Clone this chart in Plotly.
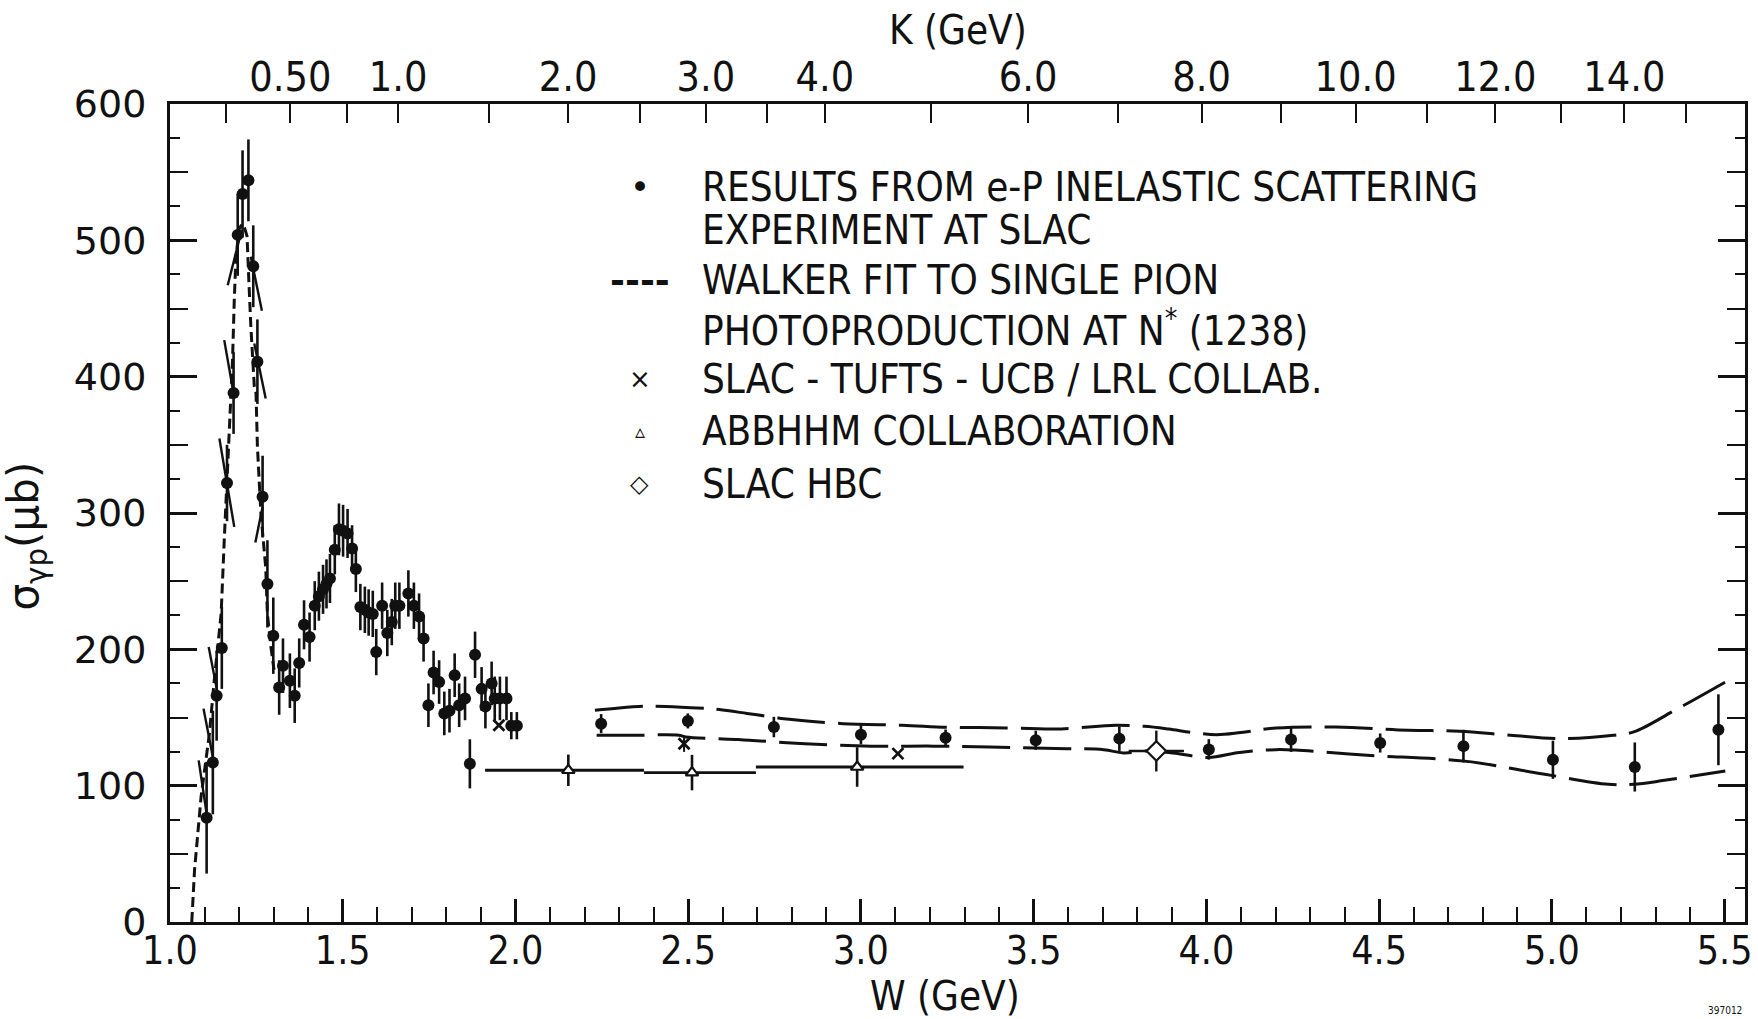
import numpy as np
import plotly.graph_objects as go

M_P = 0.938  # proton mass (GeV) used for the K <-> W relation of the top axis

# ---------------- data ----------------
# SLAC e-p inelastic scattering results (filled circles)
slac_W = [1.106, 1.124, 1.135, 1.150, 1.165, 1.184, 1.196, 1.210, 1.227, 1.241,
          1.253, 1.268, 1.282, 1.299, 1.316, 1.327, 1.347, 1.361, 1.374, 1.388,
          1.404, 1.419, 1.431, 1.443, 1.453, 1.463, 1.477, 1.489, 1.501, 1.514,
          1.527, 1.538, 1.551, 1.564, 1.575, 1.587, 1.597, 1.614, 1.629, 1.642,
          1.652, 1.664, 1.690, 1.706, 1.721, 1.734, 1.748, 1.763, 1.779, 1.794,
          1.809, 1.824, 1.837, 1.854, 1.868, 1.883, 1.902, 1.913, 1.931, 1.940,
          1.955, 1.974, 1.988, 2.004,
          2.248, 2.499, 2.748, 3.000, 3.245, 3.506, 3.748, 4.007, 4.245, 4.503,
          4.744, 5.003, 5.240, 5.482]
slac_sigma = [76.5, 117, 166, 201, 322, 388, 504, 534, 544, 481,
              411, 312, 248, 210, 172, 188, 177, 166, 190, 218,
              209, 232, 239, 244, 248, 252, 273, 288, 287, 285,
              274, 259, 231, 229, 227, 226, 198, 232, 212, 220,
              232, 232, 241, 232, 224, 208, 159, 183, 176, 153,
              155, 181, 159, 164, 116, 196, 171, 158, 175, 164,
              164, 164, 144, 144,
              145.5, 147.5, 143, 137.4, 135.2, 133.3, 134.5, 126.6, 133.8, 131.3,
              129, 119, 113.7, 141]
slac_err = [41, 38, 33, 30, 28, 30, 30, 32, 30, 30,
            31, 30, 32, 28, 20, 20, 20, 20, 18, 18,
            18, 18, 18, 18, 18, 18, 18, 19, 19, 18,
            17, 17, 17, 17, 17, 17, 17, 17, 17, 17,
            17, 17, 17, 17, 17, 17, 16, 16, 16, 16,
            16, 16, 16, 16, 18, 17, 16, 16, 16, 16,
            16, 16, 10, 10,
            7, 5.5, 7.5, 7, 6, 7, 9, 7.5, 9, 7,
            12, 14, 18, 26]

# slanted marks drawn through some of the resonance-region points (W1, s1) -> (W2, s2)
slant_W1 = [1.083, 1.097, 1.112, 1.143, 1.157, 1.167, 1.234, 1.244, 1.247]
slant_s1 = [118.6, 156.5, 201.7, 354.6, 426.8, 467, 488, 424.4, 278.3]
slant_W2 = [1.106, 1.124, 1.138, 1.186, 1.184, 1.205, 1.266, 1.277, 1.268]
slant_s2 = [79.5, 121, 167.5, 289.8, 387.7, 505, 448.3, 384, 304.5]

# Walker fit to single pion photoproduction at N*(1238) (short dashes)
walker_W = [1.063, 1.071, 1.090, 1.114, 1.128, 1.148, 1.157, 1.167, 1.175, 1.181,
            1.186, 1.191, 1.200, 1.208, 1.216, 1.223, 1.229, 1.234, 1.244, 1.249,
            1.253, 1.263, 1.277, 1.282, 1.292, 1.301]
walker_sigma = [0, 38, 92, 138, 177, 226, 280, 336, 373, 412,
                456, 488, 508, 512, 509, 503, 466, 437, 393, 388,
                349, 300, 260, 226, 202, 185]

# long-dashed band (upper / lower curves)
band_up_W = [2.230, 2.300, 2.372, 2.402, 2.480, 2.559, 2.590, 2.670, 2.751, 2.777,
             2.948, 3.120, 3.247, 3.343, 3.514, 3.564, 3.689, 3.737, 3.820, 3.891,
             3.960, 4.030, 4.100, 4.202, 4.376, 4.584, 4.732, 4.880, 5.030, 5.178,
             5.237, 5.356, 5.502]
band_up_sigma = [155.3, 157, 158.2, 158.2, 157.5, 156.5, 155.8, 153, 150, 149,
                 145.5, 144.3, 142.8, 142.6, 141.8, 141.5, 143.5, 144.3, 143.5, 141.5,
                 139, 137.4, 139, 142.3, 143, 140.6, 140, 137, 134.5, 137,
                 139.4, 155.3, 176]
band_lo_W = [2.235, 2.350, 2.473, 2.493, 2.645, 2.676, 2.838, 3.029, 3.211, 3.373,
             3.564, 3.703, 3.760, 3.837, 3.910, 4.005, 4.096, 4.200, 4.257, 4.465,
             4.747, 4.970, 5.163, 5.237, 5.326, 5.502]
band_lo_sigma = [137, 137, 137, 135.7, 133.8, 133.3, 130.8, 129, 129, 128.4,
                 127.2, 126.4, 124, 125.5, 123.8, 120.7, 124.4, 126.4, 126.1, 122.3,
                 118, 108.8, 101, 101, 103.9, 110.7]

# SLAC-Tufts-UCB/LRL collaboration (crosses)
stu_W = [1.952, 2.488, 3.107]
stu_sigma = [144.3, 130.8, 123.5]
stu_err = [0, 6, 0]

# ABBHHM collaboration (open triangles, with W bins)
abb_W = [2.153, 2.511, 2.989]
abb_sigma = [111.3, 109.6, 113.7]
abb_err = [11.5, 13, 14.5]
abb_W_lo = [1.912, 2.372, 2.696]
abb_W_hi = [2.372, 2.696, 3.297]

# SLAC HBC (open diamond)
hbc_W = [3.855]
hbc_sigma = [125.4]
hbc_err = [15]
hbc_W_err = [0.08]

# axes
W_range = [1.0, 5.559]
sigma_range = [0, 600]
K_ticks = [0.25, 0.5, 0.75, 1.0, 1.5, 2.0, 2.5, 3.0, 3.5, 4.0,
           5.0, 6.0, 7.0, 8.0, 9.0, 10.0, 11.0, 12.0, 13.0, 14.0, 15.0]
K_labels = ["", "0.50", "", "1.0", "", "2.0", "", "3.0", "", "4.0",
            "", "6.0", "", "8.0", "", "10.0", "", "12.0", "", "14.0", ""]
W_major = [1.0, 1.5, 2.0, 2.5, 3.0, 3.5, 4.0, 4.5, 5.0, 5.5]
W_labels = ["1.0", "1.5", "2.0", "2.5", "3.0", "3.5", "4.0", "4.5", "5.0", "5.5"]
sigma_major = [0, 100, 200, 300, 400, 500, 600]
sigma_mid = [50, 150, 250, 350, 450, 550]

# ---------------- figure ----------------
NARROW = "Liberation Sans Narrow, DejaVu Sans Condensed, Liberation Sans, sans-serif"
WIDE = "DejaVu Sans, sans-serif"
BLACK = "#111111"

fig = go.Figure()

# Walker fit
fig.add_trace(go.Scatter(x=walker_W, y=walker_sigma, mode="lines",
                         line=dict(color=BLACK, width=3, dash="10px,5px"),
                         showlegend=False, hoverinfo="skip"))
# band curves
for bw, bs in ((band_up_W, band_up_sigma), (band_lo_W, band_lo_sigma)):
    fig.add_trace(go.Scatter(x=bw, y=bs, mode="lines", line_shape="spline",
                             line=dict(color=BLACK, width=3, dash="48px,13px"),
                             showlegend=False, hoverinfo="skip"))
# slanted marks
sx, sy = [], []
for a, b, c, d in zip(slant_W1, slant_s1, slant_W2, slant_s2):
    sx += [a, c, None]
    sy += [b, d, None]
fig.add_trace(go.Scatter(x=sx, y=sy, mode="lines", line=dict(color=BLACK, width=2.4),
                         showlegend=False, hoverinfo="skip"))

# SLAC e-p points
fig.add_trace(go.Scatter(x=slac_W, y=slac_sigma, mode="markers",
                         marker=dict(symbol="circle", size=12, color=BLACK),
                         error_y=dict(type="data", array=slac_err, visible=True,
                                      thickness=2.6, width=0, color=BLACK),
                         showlegend=False))
# ABBHHM
fig.add_trace(go.Scatter(x=abb_W, y=abb_sigma, mode="markers",
                         marker=dict(symbol="triangle-up", size=11, color="white",
                                     line=dict(color=BLACK, width=2.2)),
                         error_y=dict(type="data", array=abb_err, visible=True,
                                      thickness=2.6, width=0, color=BLACK),
                         error_x=dict(type="data",
                                      array=[h - w for h, w in zip(abb_W_hi, abb_W)],
                                      arrayminus=[w - l for w, l in zip(abb_W, abb_W_lo)],
                                      visible=True, thickness=2.8, width=0, color=BLACK),
                         showlegend=False))
# SLAC HBC
fig.add_trace(go.Scatter(x=hbc_W, y=hbc_sigma, mode="markers",
                         marker=dict(symbol="diamond", size=15, color="white",
                                     line=dict(color=BLACK, width=2.2)),
                         error_y=dict(type="data", array=hbc_err, visible=True,
                                      thickness=2.4, width=0, color=BLACK),
                         error_x=dict(type="data", array=hbc_W_err, visible=True,
                                      thickness=2.4, width=0, color=BLACK),
                         showlegend=False))
# SLAC-Tufts-UCB/LRL
fig.add_trace(go.Scatter(x=stu_W, y=stu_sigma, mode="markers",
                         marker=dict(symbol="x-thin", size=11, color=BLACK,
                                     line=dict(color=BLACK, width=2.8)),
                         error_y=dict(type="data", array=stu_err, visible=True,
                                      thickness=2, width=0, color=BLACK),
                         showlegend=False))

# invisible trace to activate the overlay axes
K_tick_W = [float(np.sqrt(M_P**2 + 2 * M_P * k)) for k in K_ticks]
fig.add_trace(go.Scatter(x=[W_range[0]], y=[sigma_range[0]], xaxis="x2", yaxis="y3",
                         mode="markers", marker=dict(opacity=0), showlegend=False,
                         hoverinfo="skip"))

axis_common = dict(showgrid=False, zeroline=False, color=BLACK)
fig.update_layout(
    width=1758, height=1019,
    margin=dict(l=170, r=6, t=104, b=97),
    paper_bgcolor="white", plot_bgcolor="white",
    showlegend=False,
    xaxis=dict(range=W_range, tickmode="array", tickvals=W_major, ticktext=W_labels,
               ticks="inside", ticklen=23, tickwidth=2.5, tickcolor=BLACK,
               minor=dict(dtick=0.1, tick0=1.0, ticks="inside", ticklen=15,
                          tickwidth=2.2, tickcolor=BLACK),
               showline=True, linewidth=3, linecolor=BLACK, mirror=True,
               tickfont=dict(family=NARROW, size=39, color=BLACK),
               ticklabeloverflow="allow", ticklabelstandoff=-8, **axis_common),
    xaxis2=dict(range=W_range, overlaying="x", side="top", anchor="y",
                tickmode="array", tickvals=K_tick_W, ticktext=K_labels,
                ticks="inside", ticklen=19, tickwidth=2.3, tickcolor=BLACK,
                showline=False, tickfont=dict(family=NARROW, size=41, color=BLACK),
                ticklabeloverflow="allow", ticklabelstandoff=4, **axis_common),
    yaxis=dict(range=sigma_range, tickmode="array", tickvals=sigma_major,
               ticks="inside", ticklen=27, tickwidth=2.5, tickcolor=BLACK,
               minor=dict(dtick=25, tick0=0, ticks="inside", ticklen=10,
                          tickwidth=2.2, tickcolor=BLACK),
               showline=True, linewidth=3, linecolor=BLACK, mirror="ticks",
               tickfont=dict(family=WIDE, size=38, color=BLACK),
               ticklabeloverflow="allow", ticklabelstandoff=13, **axis_common),
    yaxis3=dict(range=sigma_range, overlaying="y", side="left", anchor="x",
                tickmode="array", tickvals=sigma_mid, ticks="inside", ticklen=18,
                tickwidth=2.3, tickcolor=BLACK, showticklabels=False,
                showline=False, mirror="ticks", **axis_common),
)

# axis titles
fig.add_annotation(text="W (GeV)", xref="paper", yref="paper", x=0.492, y=-0.091,
                   showarrow=False, xanchor="center", yanchor="middle",
                   font=dict(family=NARROW, size=40, color=BLACK))
fig.add_annotation(text="K (GeV)", xref="paper", yref="paper", x=0.5, y=1.09,
                   showarrow=False, xanchor="center", yanchor="middle",
                   font=dict(family=NARROW, size=40, color=BLACK))
fig.add_annotation(text="σ<sub>γp</sub>(μb)", xref="paper", yref="paper",
                   x=-0.091, y=0.472, textangle=-90, showarrow=False,
                   xanchor="center", yanchor="middle",
                   font=dict(family=WIDE, size=42, color=BLACK))
fig.add_annotation(text="397012", xref="paper", yref="paper", x=0.987, y=-0.108,
                   showarrow=False, xanchor="center", yanchor="middle",
                   font=dict(family=NARROW, size=10, color=BLACK))

# in-plot legend
legend_x_sym = 2.36
legend_x_txt = 2.535
legend_rows = [
    ("•", 539, "RESULTS FROM e-P INELASTIC SCATTERING", 34),
    ("", 507.8, "EXPERIMENT AT SLAC", 0),
    ("<b>----</b>", 470.8, "WALKER FIT TO SINGLE PION", 36),
    ("", 435.4, "PHOTOPRODUCTION AT N<sup>*</sup> (1238)", 0),
    ("×", 398.4, "SLAC - TUFTS - UCB / LRL COLLAB.", 26),
    ("▵", 360.5, "ABBHHM COLLABORATION", 20),
    ("◇", 321, "SLAC HBC", 24),
]
for sym, yv, txt, ssize in legend_rows:
    if sym:
        fig.add_annotation(text=sym, x=legend_x_sym, y=yv, xref="x", yref="y",
                           showarrow=False, xanchor="center", yanchor="middle",
                           font=dict(family=WIDE, size=ssize, color=BLACK))
    fig.add_annotation(text=txt, x=legend_x_txt, y=yv, xref="x", yref="y",
                       showarrow=False, xanchor="left", yanchor="middle",
                       font=dict(family=NARROW, size=40, color=BLACK))

fig.write_html("out.html")
